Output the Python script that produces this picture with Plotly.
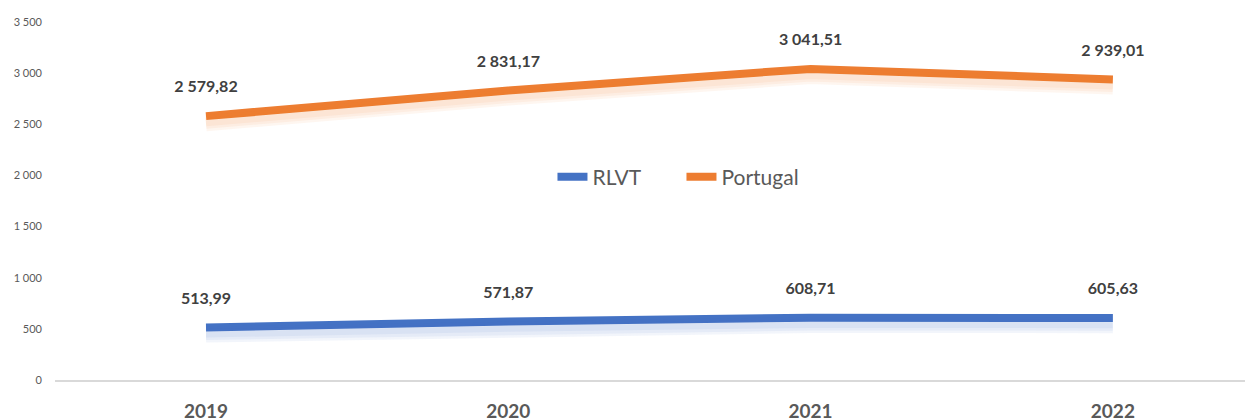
import plotly.graph_objects as go

years = ["2019", "2020", "2021", "2022"]
rlvt = [513.99, 571.87, 608.71, 605.63]
portugal = [2579.82, 2831.17, 3041.51, 2939.01]
rlvt_labels = ["513,99", "571,87", "608,71", "605,63"]
portugal_labels = ["2 579,82", "2 831,17", "3 041,51", "2 939,01"]
ytick_vals = [0, 500, 1000, 1500, 2000, 2500, 3000, 3500]
ytick_text = ["0", "500", "1 000", "1 500", "2 000", "2 500", "3 000", "3 500"]

BLUE = "#4472C4"
ORANGE = "#ED7D31"
FONT = "Lato, 'Open Sans', sans-serif"

fig = go.Figure()

shift = 70  # shadow offset in data units on the overlay axis
for vals, col in [(rlvt, "rgba(68,114,196,0.07)"), (portugal, "rgba(237,125,49,0.07)")]:
    for w in (16, 11, 6):
        fig.add_trace(go.Scatter(x=years, y=vals, mode="lines", yaxis="y2",
                                 line=dict(color=col, width=w), showlegend=False,
                                 hoverinfo="skip"))

fig.add_trace(go.Scatter(x=years, y=rlvt, mode="lines", name="RLVT",
                         line=dict(color=BLUE, width=8)))
fig.add_trace(go.Scatter(x=years, y=portugal, mode="lines", name="Portugal",
                         line=dict(color=ORANGE, width=8)))

for vals, labs in [(rlvt, rlvt_labels), (portugal, portugal_labels)]:
    fig.add_trace(go.Scatter(x=years, y=vals, mode="markers+text", text=labs,
                             textposition="top center", showlegend=False,
                             hoverinfo="skip",
                             marker=dict(size=30, opacity=0),
                             textfont=dict(family=FONT, size=16, color="#404040",
                                           weight="bold")))

fig.update_layout(
    width=1253, height=419,
    margin=dict(l=47, r=0, t=14, b=47, autoexpand=False),
    paper_bgcolor="white", plot_bgcolor="white",
    font=dict(family=FONT, color="#595959"),
    showlegend=True,
    legend=dict(orientation="h", x=0.4125, xanchor="left", y=0.567, yanchor="middle",
                font=dict(size=21, color="#595959"), bgcolor="rgba(0,0,0,0)",
                entrywidth=84, entrywidthmode="pixels"),
    xaxis=dict(range=[-0.4995, 3.49], showgrid=False, zeroline=False, automargin=False,
               showline=True, linecolor="#D9D9D9", linewidth=1.5, ticks="",
               tickfont=dict(size=19, color="#595959", family=FONT, weight="bold"),
               ticklabelstandoff=13),
    yaxis=dict(range=[0, 3500], tickvals=ytick_vals, ticktext=ytick_text, automargin=False,
               showgrid=False, zeroline=False, showline=False, ticks="",
               tickfont=dict(size=11, color="#595959", family=FONT),
               ticklabelstandoff=12),
    yaxis2=dict(range=[shift, 3500 + shift], overlaying="y", visible=False),
)

fig.write_html("out.html")
